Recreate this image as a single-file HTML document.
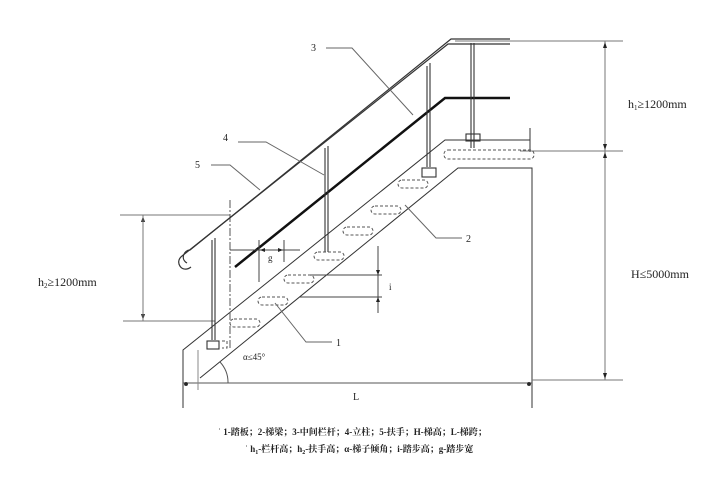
<!DOCTYPE html>
<html><head><meta charset="utf-8"><style>
html,body{margin:0;padding:0;background:#fff}
svg{display:block}
text{font-family:"Liberation Serif","Noto Serif CJK SC",serif;fill:#222}
</style></head><body>
<svg width="726" height="489" viewBox="0 0 726 489" xmlns="http://www.w3.org/2000/svg">
<g stroke="#333" stroke-width="1" fill="none">
<polyline points="183,408 183,350 445,140 530,140"/>
<line x1="530" y1="128" x2="530" y2="152"/>
<polyline points="200,378 458,168 532,168 532,408"/>
<line x1="183" y1="383" x2="532" y2="383" stroke="#555"/>
<circle cx="186" cy="384" r="1.5" fill="#222"/><circle cx="529" cy="384" r="1.5" fill="#222"/>
<line x1="198" y1="350" x2="198" y2="390" stroke="#888"/>
<path d="M228,383 A30,30 0 0 0 220,362" stroke="#555"/>
<g stroke="#777">
<line x1="455" y1="41" x2="623" y2="41"/>
<line x1="520" y1="151" x2="623" y2="151"/>
<line x1="532" y1="380" x2="623" y2="380"/>
<line x1="605" y1="41" x2="605" y2="380"/>
</g>
<g fill="#222" stroke="none">
<path d="M605,42 l-2,6 h4z M605,150 l-2,-6 h4z M605,152 l-2,6 h4z M605,379 l-2,-6 h4z"/>
<path d="M143,216 l-2,6 h4z M143,320 l-2,-6 h4z"/>
</g>
<g stroke="#777">
<line x1="120" y1="215" x2="230" y2="215"/>
<line x1="123" y1="321" x2="215" y2="321"/>
<line x1="143" y1="215" x2="143" y2="321"/>
</g>
<line x1="230" y1="200" x2="230" y2="350" stroke-dasharray="8,2,2,2" stroke="#555"/>
<path d="M187,263 C180,259 184,250 190,250 L451,39 L510,39" stroke="#333" stroke-width="1.2"/>
<path d="M191,267 C182,274 174,262 182,256 L448,44 L510,44" stroke="#333" stroke-width="1.2"/>
<polyline points="235,267 445,98 510,98" stroke="#111" stroke-width="2.5"/>
<g stroke="#333" stroke-width="1.1">
<line x1="212" y1="240" x2="212" y2="340"/><line x1="215" y1="238" x2="215" y2="340"/>
<rect x="207" y="341" width="12" height="8"/>
<line x1="325" y1="148" x2="325" y2="252"/><line x1="328" y1="146" x2="328" y2="252"/>
<line x1="427" y1="66" x2="427" y2="167"/><line x1="430" y1="63" x2="430" y2="167"/>
<rect x="422" y="168" width="14" height="9"/>
<line x1="471" y1="43" x2="471" y2="148"/><line x1="474" y1="43" x2="474" y2="148"/>
<rect x="466" y="134" width="14" height="7"/>
</g>
<g stroke="#555" stroke-dasharray="3,2">
<rect x="444" y="150" width="90" height="9" rx="4"/>
<rect x="398" y="180" width="30" height="8" rx="4"/>
<rect x="371" y="206" width="30" height="8" rx="4"/>
<rect x="343" y="227" width="30" height="8" rx="4"/>
<rect x="314" y="252" width="30" height="8" rx="4"/>
<rect x="284" y="275" width="30" height="8" rx="4"/>
<rect x="258" y="297" width="30" height="8" rx="4"/>
<rect x="230" y="319" width="30" height="8" rx="4"/>
<path d="M222,341 h5 v7 h-5"/>
</g>
<g stroke="#444">
<line x1="230" y1="250" x2="300" y2="250"/>
<line x1="259" y1="240" x2="259" y2="282"/>
<line x1="284" y1="240" x2="284" y2="262"/>
<line x1="378" y1="246" x2="378" y2="313"/>
<line x1="310" y1="275" x2="382" y2="275"/>
<line x1="300" y1="297" x2="382" y2="297"/>
</g>
<g fill="#222" stroke="none"><path d="M378,275 l-2,-5 h4z M378,297 l-2,5 h4z M260,250 l5,-2 v4z M283,250 l-5,-2 v4z"/></g>
<g stroke="#666">
<polyline points="326,48 352,48 413,115"/>
<polyline points="238,142 266,142 324,175"/>
<polyline points="211,165 230,165 260,190"/>
<polyline points="462,238 436,238 405,205"/>
<polyline points="332,342 306,342 275,303"/>
</g>
</g>
<g font-size="10">
<text x="311" y="51">3</text>
<text x="223" y="141">4</text>
<text x="195" y="168">5</text>
<text x="466" y="242">2</text>
<text x="336" y="346">1</text>
<text x="268" y="261" font-size="9">g</text>
<text x="389" y="290" font-size="9">i</text>
<text x="353" y="400">L</text>
<text x="243" y="360" font-size="9">α≤45°</text>
</g>
<g font-size="12">
<text x="628" y="108">h<tspan font-size="7" dy="2">1</tspan><tspan dy="-2">≥1200mm</tspan></text>
<text x="631" y="278">H≤5000mm</text>
<text x="38" y="286">h<tspan font-size="7" dy="2">2</tspan><tspan dy="-2">≥1200mm</tspan></text>
</g>
<g font-size="9" font-weight="bold">
<text x="218" y="435">ʾ  1-踏板；2-梯梁；3-中间栏杆；4-立柱；5-扶手；H-梯高；L-梯跨；</text>
<text x="245" y="452">ʾ  h<tspan font-size="6" dy="2">1</tspan><tspan dy="-2">-栏杆高；h</tspan><tspan font-size="6" dy="2">2</tspan><tspan dy="-2">-扶手高；α-梯子倾角；i-踏步高；g-踏步宽</tspan></text>
</g>
</svg>
</body></html>
